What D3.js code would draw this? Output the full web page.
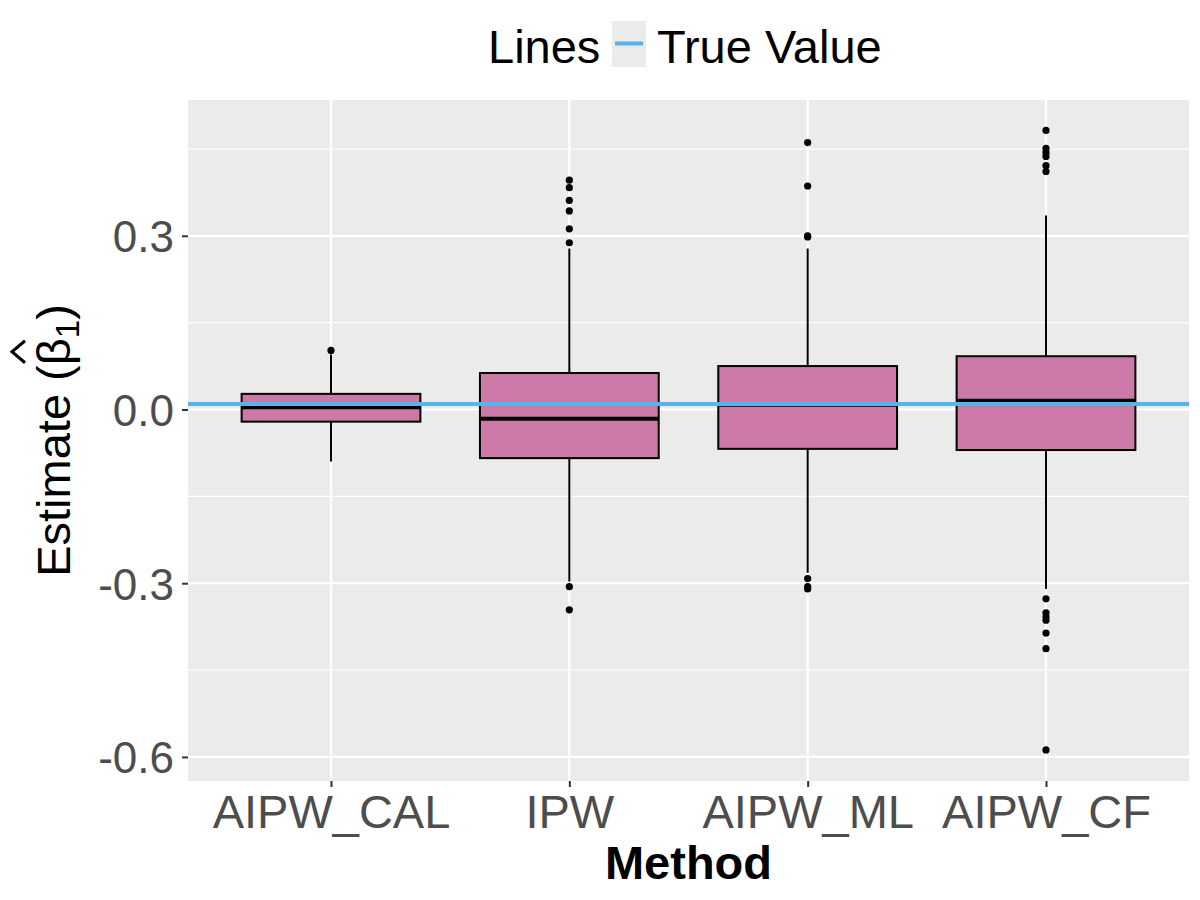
<!DOCTYPE html>
<html>
<head>
<meta charset="utf-8">
<script src="https://cdn.jsdelivr.net/npm/d3@7"></script>
<style>
  body { margin: 0; background: #fff; }
  text { font-family: "Liberation Sans", Arial, sans-serif; }
</style>
</head>
<body>
<div id="viz1"></div>
<script>
// boxplot of estimates per method

// data
var methods = ["AIPW_CAL", "IPW", "AIPW_ML", "AIPW_CF"];
var q1 = [-0.021, -0.084, -0.068, -0.070];
var medians = [0.004, -0.016, 0.008, 0.015];
var q3 = [0.027, 0.063, 0.075, 0.092];
var whiskerLow = [-0.090, -0.297, -0.282, -0.310];
var whiskerHigh = [0.095, 0.278, 0.278, 0.335];
var outliers = [
  [0.102],
  [0.396, 0.383, 0.361, 0.343, 0.312, 0.288, -0.306, -0.346],
  [0.461, 0.386, 0.300, 0.298, -0.292, -0.306, -0.310],
  [0.482, 0.451, 0.444, 0.437, 0.421, 0.411, -0.327, -0.351, -0.358, -0.364, -0.386, -0.413, -0.588]
];
var trueValue = 0.0095;
var yTicks = [-0.6, -0.3, 0, 0.3];
var yTickLabels = ["-0.6", "-0.3", "0.0", "0.3"];
var yMinor = [-0.45, -0.15, 0.15, 0.45];

// panel position
var panel = {left: 188, right: 1189, top: 100, bottom: 781};

var svg = d3.select("#viz1")
  .append("svg")
    .attr("width", 1200)
    .attr("height", 900);

// scales
var x = d3.scalePoint()
    .domain(methods)
    .range([panel.left, panel.right])
    .padding(0.6);
var boxWidth = x.step() * 0.75;

var y = d3.scaleLinear()
    .domain([-0.6416, 0.5345])
    .range([panel.bottom, panel.top]);

// panel background
svg.append("rect")
    .attr("x", panel.left)
    .attr("y", panel.top)
    .attr("width", panel.right - panel.left)
    .attr("height", panel.bottom - panel.top)
    .attr("fill", "#EBEBEB");

// grid lines
svg.append("g")
  .selectAll("line")
  .data(yMinor)
  .enter().append("line")
    .attr("x1", panel.left)
    .attr("x2", panel.right)
    .attr("y1", function(d) { return y(d); })
    .attr("y2", function(d) { return y(d); })
    .attr("stroke", "#fff")
    .attr("stroke-width", 1.1);

svg.append("g")
  .selectAll("line")
  .data(yTicks)
  .enter().append("line")
    .attr("x1", panel.left)
    .attr("x2", panel.right)
    .attr("y1", function(d) { return y(d); })
    .attr("y2", function(d) { return y(d); })
    .attr("stroke", "#fff")
    .attr("stroke-width", 2.2);

svg.append("g")
  .selectAll("line")
  .data(methods)
  .enter().append("line")
    .attr("x1", function(d) { return x(d); })
    .attr("x2", function(d) { return x(d); })
    .attr("y1", panel.top)
    .attr("y2", panel.bottom)
    .attr("stroke", "#fff")
    .attr("stroke-width", 2.2);

// boxes
var boxes = svg.append("g")
  .selectAll("g")
  .data(methods)
  .enter().append("g");

boxes.append("line")
    .attr("x1", function(d) { return x(d); })
    .attr("x2", function(d) { return x(d); })
    .attr("y1", function(d, i) { return y(whiskerHigh[i]); })
    .attr("y2", function(d, i) { return y(q3[i]); })
    .attr("stroke", "#000")
    .attr("stroke-width", 2);

boxes.append("line")
    .attr("x1", function(d) { return x(d); })
    .attr("x2", function(d) { return x(d); })
    .attr("y1", function(d, i) { return y(q1[i]); })
    .attr("y2", function(d, i) { return y(whiskerLow[i]); })
    .attr("stroke", "#000")
    .attr("stroke-width", 2);

boxes.append("rect")
    .attr("x", function(d) { return x(d) - boxWidth / 2; })
    .attr("y", function(d, i) { return y(q3[i]); })
    .attr("width", boxWidth)
    .attr("height", function(d, i) { return y(q1[i]) - y(q3[i]); })
    .attr("fill", "#CC79A7")
    .attr("stroke", "#000")
    .attr("stroke-width", 2);

boxes.append("line")
    .attr("x1", function(d) { return x(d) - boxWidth / 2; })
    .attr("x2", function(d) { return x(d) + boxWidth / 2; })
    .attr("y1", function(d, i) { return y(medians[i]); })
    .attr("y2", function(d, i) { return y(medians[i]); })
    .attr("stroke", "#000")
    .attr("stroke-width", 4);

boxes.selectAll("circle")
  .data(function(d, i) { return outliers[i].map(function(v) { return {key: d, value: v}; }); })
  .enter().append("circle")
    .attr("cx", function(d) { return x(d.key); })
    .attr("cy", function(d) { return y(d.value); })
    .attr("r", 3.6)
    .attr("fill", "#000");

// true value line
svg.append("line")
    .attr("x1", panel.left)
    .attr("x2", panel.right)
    .attr("y1", y(trueValue))
    .attr("y2", y(trueValue))
    .attr("stroke", "#56B4E9")
    .attr("stroke-width", 4);

// y axis
var yAxis = svg.append("g")
    .attr("transform", "translate(" + panel.left + ",0)")
    .call(d3.axisLeft(y)
      .tickValues(yTicks)
      .tickFormat(function(d, i) { return yTickLabels[i]; })
      .tickSize(6)
      .tickPadding(8));
yAxis.select(".domain").remove();
yAxis.selectAll(".tick line").attr("stroke", "#333").attr("stroke-width", 2);
yAxis.selectAll(".tick text")
    .attr("fill", "#4D4D4D")
    .attr("font-size", 44)
    .attr("dy", "0.36em")
    .style("font-family", "'Liberation Sans', Arial, sans-serif");

// x axis
var xAxis = svg.append("g")
    .attr("transform", "translate(0," + panel.bottom + ")")
    .call(d3.axisBottom(x).tickSize(6).tickPadding(6));
xAxis.select(".domain").remove();
xAxis.selectAll(".tick line").attr("stroke", "#333").attr("stroke-width", 2);
xAxis.selectAll(".tick text")
    .attr("fill", "#4D4D4D")
    .attr("font-size", 47)
    .attr("y", 47)
    .attr("dy", 0)
    .style("font-family", "'Liberation Sans', Arial, sans-serif");

// axis titles
svg.append("text")
    .attr("x", (panel.left + panel.right) / 2)
    .attr("y", 879)
    .attr("text-anchor", "middle")
    .attr("font-size", 47)
    .attr("font-weight", "bold")
    .text("Method");

var yTitle = svg.append("g")
    .attr("transform", "translate(70," + ((panel.top + panel.bottom) / 2) + ") rotate(-90)");
var yText = yTitle.append("text")
    .attr("text-anchor", "middle")
    .attr("font-size", 47)
    .attr("fill", "#000");
yText.append("tspan").text("Estimate (");
yText.append("tspan").text("\u03B2");
yText.append("tspan").attr("font-size", 33).attr("dy", 9).text("1");
yText.append("tspan").attr("dy", -9).text(")");

// hat over beta
var betaBox = yText.node().getExtentOfChar(10);
var hx = betaBox.x + betaBox.width / 2;
yTitle.append("path")
    .attr("d", "M" + (hx - 11) + ",-45L" + hx + ",-58L" + (hx + 11) + ",-45")
    .attr("fill", "none")
    .attr("stroke", "#000")
    .attr("stroke-width", 3);

// legend
var legend = svg.append("g");
legend.append("text")
    .attr("x", 488)
    .attr("y", 63)
    .attr("font-size", 47)
    .text("Lines");
legend.append("rect")
    .attr("x", 612)
    .attr("y", 21)
    .attr("width", 34)
    .attr("height", 46)
    .attr("fill", "#EBEBEB");
legend.append("line")
    .attr("x1", 615)
    .attr("x2", 643)
    .attr("y1", 43.5)
    .attr("y2", 43.5)
    .attr("stroke", "#56B4E9")
    .attr("stroke-width", 4);
legend.append("text")
    .attr("x", 657)
    .attr("y", 63)
    .attr("font-size", 47)
    .text("True Value");
</script>
</body>
</html>
